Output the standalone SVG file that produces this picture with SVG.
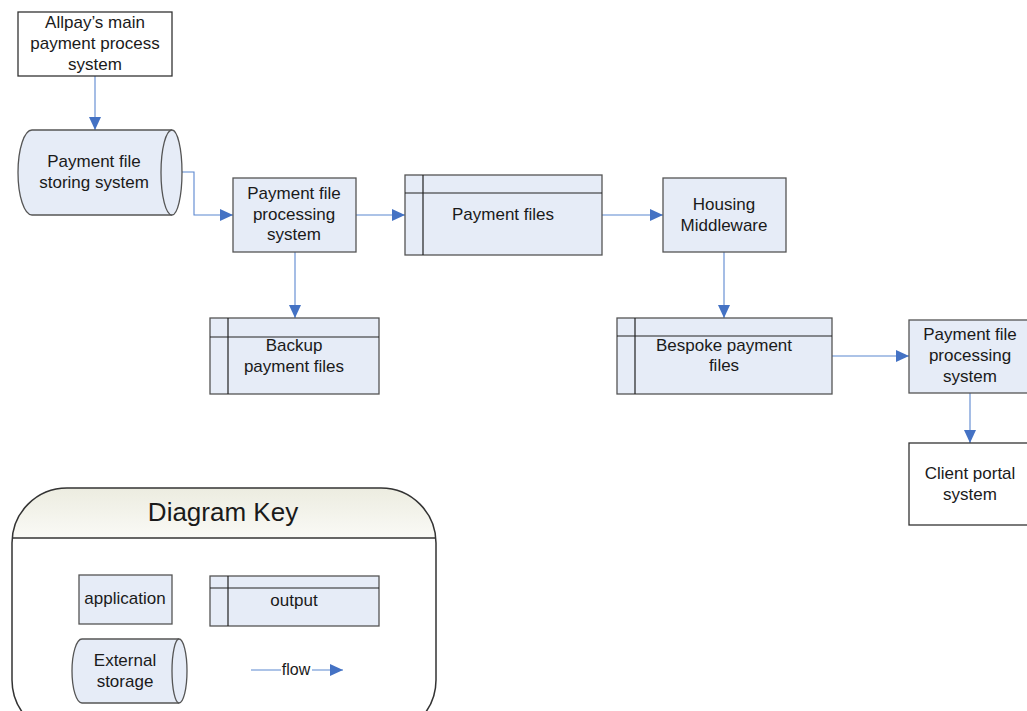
<svg xmlns="http://www.w3.org/2000/svg" width="1027" height="711" viewBox="0 0 1027 711">
<defs>
<marker id="arr" markerUnits="userSpaceOnUse" markerWidth="13" markerHeight="12" refX="13" refY="6" orient="auto">
<path d="M0,0 L13,6 L0,12 Z" fill="#4472c4"/>
</marker>
<linearGradient id="hdr" x1="0" y1="0" x2="0" y2="1">
<stop offset="0" stop-color="#ecece0"/>
<stop offset="1" stop-color="#fafaf6"/>
</linearGradient>
<clipPath id="keyclip"><rect x="12" y="488" width="424" height="247" rx="55" ry="55"/></clipPath>
</defs>
<style>
text{font-family:"Liberation Sans",Arial,sans-serif;font-size:17px;fill:#1a1a1a;text-anchor:middle}
.app{fill:#e6ecf7;stroke:#555;stroke-width:1.3}
.ext{fill:#fff;stroke:#333;stroke-width:1.3}
.in{fill:none;stroke:#222;stroke-width:1.2}
.con{fill:none;stroke:#5b87d0;stroke-width:1.1;marker-end:url(#arr)}
</style>
<rect width="1027" height="711" fill="#fff"/>

<g id="connectors">
<path class="con" d="M95,76 V130"/>
<path class="con" d="M182,172 H194 V215 H233"/>
<path class="con" d="M356,215 H405"/>
<path class="con" d="M295,252 V318"/>
<path class="con" d="M602,215 H663"/>
<path class="con" d="M724,252 V318"/>
<path class="con" d="M832,356 H909"/>
<path class="con" d="M970,393 V443"/>
</g>

<g id="allpay">
<rect class="ext" x="18" y="12" width="154" height="64"/>
<text x="95" y="28">Allpay’s main</text>
<text x="95" y="49">payment process</text>
<text x="95" y="70">system</text>
</g>

<g id="storage">
<path class="app" d="M32,130 H172 A10,42.5 0 0 1 172,215 H32 A14,42.5 0 0 1 32,130 Z"/>
<path class="app" d="M172,130 A11,42.5 0 0 0 172,215"/>
<text x="94" y="167">Payment file</text>
<text x="94" y="188">storing system</text>
</g>

<g id="proc1">
<rect class="app" x="233" y="178" width="123" height="74"/>
<text x="294" y="199">Payment file</text>
<text x="294" y="220">processing</text>
<text x="294" y="240">system</text>
</g>

<g id="payfiles">
<rect class="app" x="405" y="175" width="197" height="80"/>
<path class="in" d="M405,193 H602 M423,175 V255"/>
<text x="503" y="220">Payment files</text>
</g>

<g id="backup">
<rect class="app" x="210" y="318" width="169" height="76"/>
<path class="in" d="M210,337 H379 M228,318 V394"/>
<text x="294" y="351">Backup</text>
<text x="294" y="372">payment files</text>
</g>

<g id="housing">
<rect class="app" x="663" y="178" width="123" height="74"/>
<text x="724" y="210">Housing</text>
<text x="724" y="231">Middleware</text>
</g>

<g id="bespoke">
<rect class="app" x="617" y="318" width="215" height="76"/>
<path class="in" d="M617,336 H832 M635,318 V394"/>
<text x="724" y="351">Bespoke payment</text>
<text x="724" y="371">files</text>
</g>

<g id="proc2">
<rect class="app" x="909" y="320" width="123" height="73"/>
<text x="970" y="340">Payment file</text>
<text x="970" y="361">processing</text>
<text x="970" y="382">system</text>
</g>

<g id="client">
<rect class="ext" x="909" y="443" width="123" height="82"/>
<text x="970" y="479">Client portal</text>
<text x="970" y="500">system</text>
</g>

<g id="key">
<rect x="12" y="488" width="424" height="247" rx="55" ry="55" fill="#fff"/>
<rect x="12" y="488" width="424" height="50" fill="url(#hdr)" clip-path="url(#keyclip)"/>
<line x1="12" y1="538" x2="436" y2="538" stroke="#333" stroke-width="1.3"/>
<rect x="12" y="488" width="424" height="247" rx="55" ry="55" fill="none" stroke="#333" stroke-width="1.5"/>
<text x="223" y="521" style="font-size:26px">Diagram Key</text>

<rect class="app" x="79" y="575" width="93" height="49"/>
<text x="125" y="604">application</text>

<rect class="app" x="210" y="576" width="169" height="50"/>
<path class="in" d="M210,588 H379 M228,576 V626"/>
<text x="294" y="606">output</text>

<path class="app" d="M82,639 H179 A8,32 0 0 1 179,703 H82 A10,32 0 0 1 82,639 Z"/>
<path class="app" d="M179,639 A7,32 0 0 0 179,703"/>
<text x="125" y="666">External</text>
<text x="125" y="687">storage</text>

<path class="con" d="M251,670 H343"/>
<rect x="281" y="660" width="31" height="18" fill="#fff"/>
<text x="296" y="675" style="font-size:16px">flow</text>
</g>
</svg>
